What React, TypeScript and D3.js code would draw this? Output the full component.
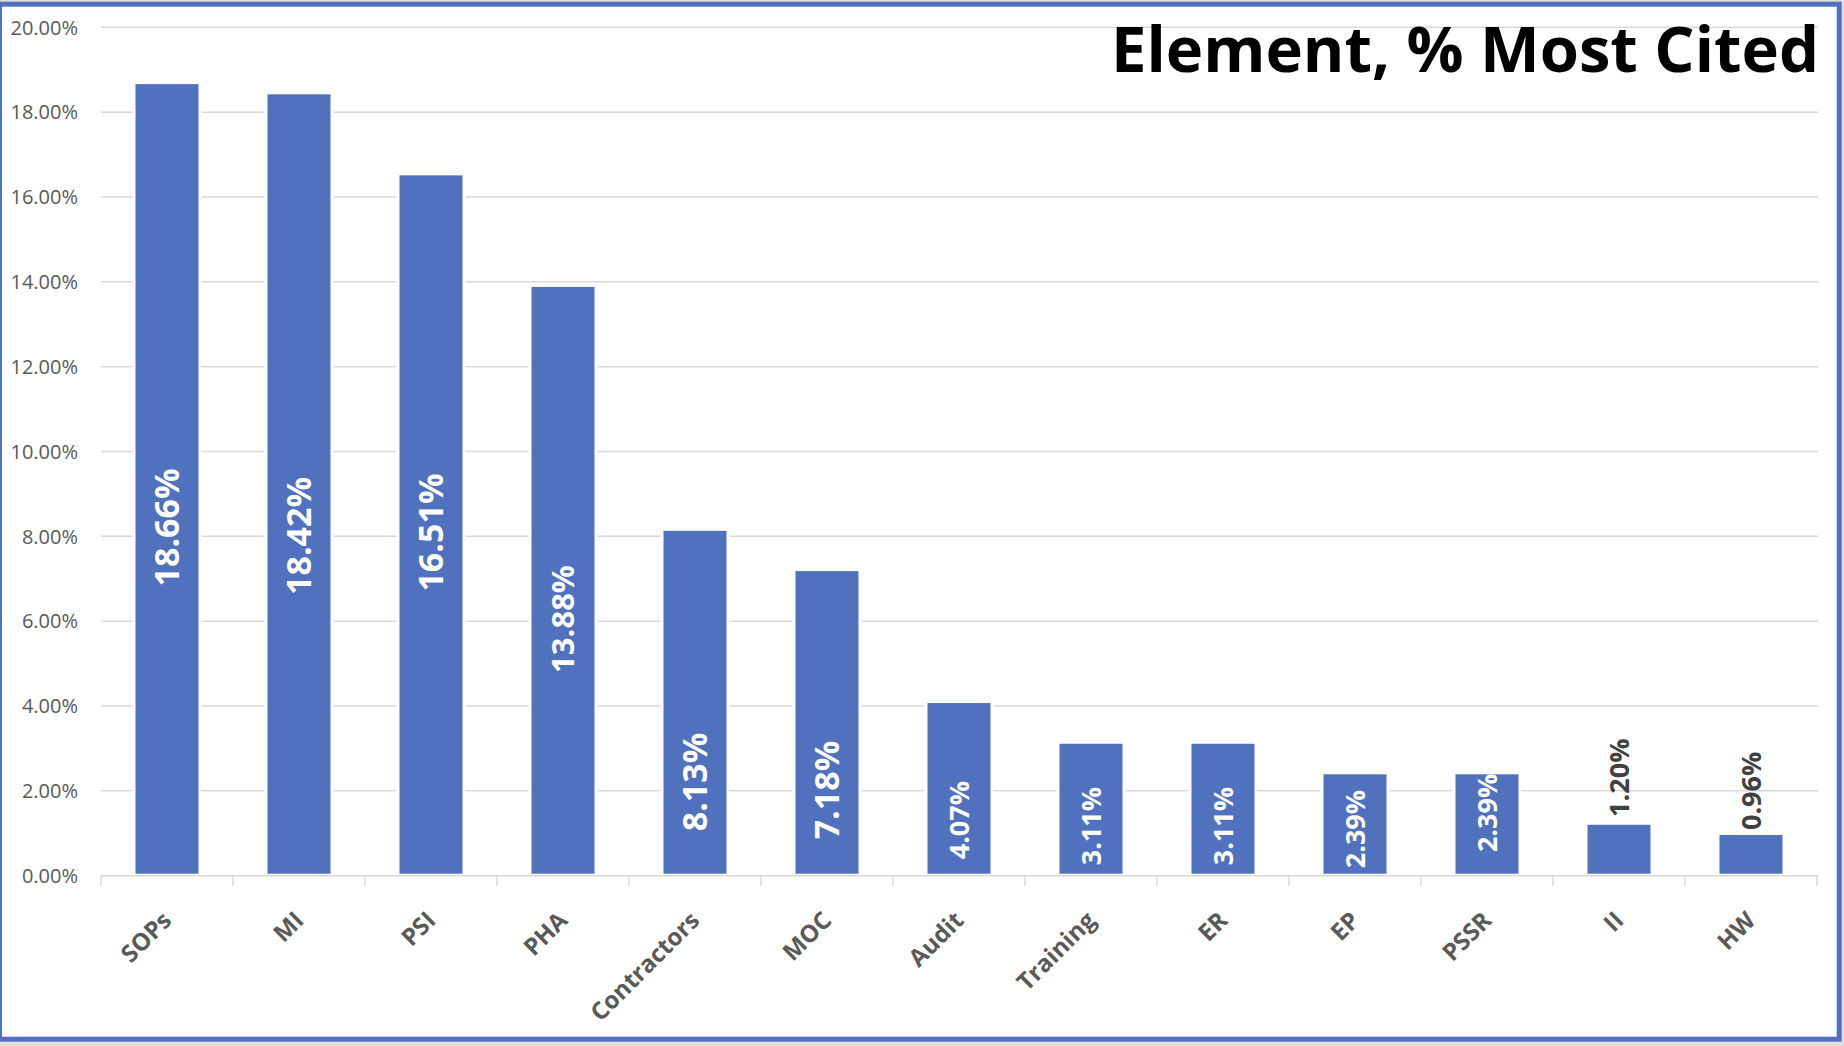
import { useEffect, useRef } from 'react';
import * as d3 from 'd3';

// Chart colours
const COLOR_BAR = "#4F71BE";
const COLOR_GRID = "#D9D9D9";
const COLOR_AXIS_TEXT = "#595959";
const COLOR_FRAME = "#4F71BE";
const COLOR_OUTSIDE = "#DEDEDE";
const FONT = "'Open Sans', 'DejaVu Sans', sans-serif";

// Data
const elements = ["SOPs", "MI", "PSI", "PHA", "Contractors", "MOC", "Audit", "Training", "ER", "EP", "PSSR", "II", "HW"];
const percentCited = [18.66, 18.42, 16.51, 13.88, 8.13, 7.18, 4.07, 3.11, 3.11, 2.39, 2.39, 1.20, 0.96];
const yTicks = [0, 2, 4, 6, 8, 10, 12, 14, 16, 18, 20];

// Data labels were placed by hand in the original: value (in %) where each label is centred
const labelAt = [8.21, 8.01, 8.09, 6.05, 2.21, 2.02, 1.31, 1.17, 1.17, 1.10, 1.48, 2.31, 2.00];
const labelSize = [34, 34, 34, 31, 34, 34, 27, 27, 27, 27, 27, 27, 27];
const labelOutside = ["II", "HW"];

export default function App() {
  const ref = useRef<SVGSVGElement>(null);

  useEffect(() => {
    if (!ref.current) return;
    const width = 1844;
    const height = 1046;

    const svg = d3.select(ref.current);
    svg.selectAll("*").remove();

    // Background + frame
    svg.append("rect")
      .attr("width", width)
      .attr("height", height)
      .attr("fill", COLOR_OUTSIDE);

    svg.append("rect")
      .attr("x", -0.5)
      .attr("y", 4.2)
      .attr("width", 1839.7)
      .attr("height", 1035)
      .attr("fill", "white")
      .attr("stroke", COLOR_FRAME)
      .attr("stroke-width", 5);

    // Scales
    const x = d3.scaleBand<string>()
      .domain(elements)
      .range([101, 1817])
      .paddingInner(0.523)
      .paddingOuter(0.2615);

    const y = d3.scaleLinear()
      .domain([0, 20])
      .range([875.7, 27.3]);

    // Gridlines
    svg.append("g")
      .selectAll("line")
      .data(yTicks.filter(t => t > 0))
      .join("line")
      .attr("x1", 101)
      .attr("x2", 1818)
      .attr("y1", d => y(d))
      .attr("y2", d => y(d))
      .attr("stroke", COLOR_GRID)
      .attr("stroke-width", 1.5);

    // Y tick labels
    svg.append("g")
      .attr("font-family", FONT)
      .attr("font-size", 20)
      .attr("fill", COLOR_AXIS_TEXT)
      .attr("text-anchor", "end")
      .selectAll("text")
      .data(yTicks)
      .join("text")
      .attr("x", 78)
      .attr("y", d => y(d))
      .attr("dy", "0.36em")
      .text(d => d3.format(".2%")(d / 100));

    // Bars (with thin white outline like the original)
    svg.append("g")
      .selectAll("rect")
      .data(percentCited)
      .join("rect")
      .attr("x", (d, i) => x(elements[i])! - 3)
      .attr("y", d => y(d) - 3)
      .attr("width", x.bandwidth() + 6)
      .attr("height", d => y(0) - y(d) + 1)
      .attr("fill", "white");

    svg.append("g")
      .selectAll("rect")
      .data(percentCited)
      .join("rect")
      .attr("x", (d, i) => x(elements[i])!)
      .attr("y", d => y(d))
      .attr("width", x.bandwidth())
      .attr("height", d => y(0) - 2 - y(d))
      .attr("fill", COLOR_BAR);

    // X axis line and ticks
    const axis = svg.append("g")
      .attr("stroke", COLOR_GRID)
      .attr("stroke-width", 1.5);

    axis.append("line")
      .attr("x1", 101)
      .attr("x2", 1818)
      .attr("y1", y(0))
      .attr("y2", y(0));

    axis.selectAll("line.tick")
      .data(d3.range(elements.length + 1))
      .join("line")
      .attr("class", "tick")
      .attr("x1", i => 101 + i * x.step())
      .attr("x2", i => 101 + i * x.step())
      .attr("y1", y(0))
      .attr("y2", y(0) + 10);

    // X tick labels, rotated -45
    svg.append("g")
      .attr("font-family", FONT)
      .attr("font-size", 24)
      .attr("font-weight", 700)
      .attr("fill", COLOR_AXIS_TEXT)
      .attr("text-anchor", "end")
      .selectAll("text")
      .data(elements)
      .join("text")
      .attr("transform", d => `translate(${x(d)! + x.bandwidth() / 2 + 6}, 922) rotate(-45)`)
      .text(d => d);

    // Data labels, rotated -90
    svg.append("g")
      .attr("font-family", FONT)
      .attr("font-weight", 700)
      .attr("text-anchor", "middle")
      .selectAll("text")
      .data(percentCited)
      .join("text")
      .attr("transform", (d, i) => `translate(${x(elements[i])! + x.bandwidth() / 2}, ${y(labelAt[i])}) rotate(-90)`)
      .attr("dy", "0.36em")
      .attr("font-size", (d, i) => labelSize[i])
      .attr("fill", (d, i) => labelOutside.includes(elements[i]) ? "#404040" : "white")
      .text(d => d.toFixed(2) + "%");

    // Title
    svg.append("text")
      .attr("x", 1111)
      .attr("y", 71.7)
      .attr("font-family", FONT)
      .attr("font-size", 62)
      .attr("font-weight", 700)
      .attr("fill", "black")
      .attr("textLength", 708)
      .attr("lengthAdjust", "spacingAndGlyphs")
      .text("Element, % Most Cited");
  }, []);

  return (
    <svg
      ref={ref}
      width={1844}
      height={1046}
      style={{ position: 'absolute', top: 0, left: 0, display: 'block' }}
    />
  );
}
